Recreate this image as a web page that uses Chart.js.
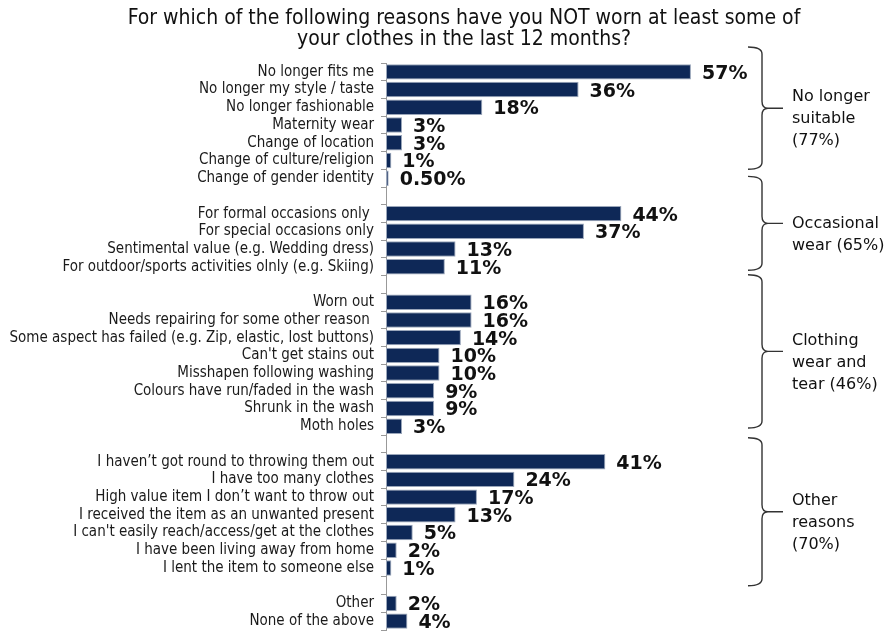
<!DOCTYPE html>
<html>
<head>
<meta charset="utf-8">
<script src="https://cdn.jsdelivr.net/npm/chart.js@4.4.1/dist/chart.umd.min.js"></script>
<style>
  html, body { margin: 0; padding: 0; background: #fff; }
</style>
</head>
<body>
<canvas id="chart" width="893" height="632"></canvas>
<script>
// --- data ---
const titleLines = [
  'For which of the following reasons have you NOT worn at least some of',
  'your clothes in the last 12 months?'
];

const categories = [
  'No longer fits me', 'No longer my style / taste', 'No longer fashionable',
  'Maternity wear', 'Change of location', 'Change of culture/religion',
  'Change of gender identity',
  '',
  'For formal occasions only ', 'For special occasions only',
  'Sentimental value (e.g. Wedding dress)',
  'For outdoor/sports activities olnly (e.g. Skiing)',
  '',
  'Worn out', 'Needs repairing for some other reason ',
  'Some aspect has failed (e.g. Zip, elastic, lost buttons)',
  "Can't get stains out", 'Misshapen following washing',
  'Colours have run/faded in the wash', 'Shrunk in the wash', 'Moth holes',
  '',
  'I haven\u2019t got round to throwing them out', 'I have too many clothes',
  'High value item I don\u2019t want to throw out',
  'I received the item as an unwanted present',
  "I can't easily reach/access/get at the clothes",
  'I have been living away from home', 'I lent the item to someone else',
  '',
  'Other', 'None of the above'
];

const values = [
  57, 36, 18, 3, 3, 1, 0.5,
  null,
  44, 37, 13, 11,
  null,
  16, 16, 14, 10, 10, 9, 9, 3,
  null,
  41, 24, 17, 13, 5, 2, 1,
  null,
  2, 4
];

const groupNames = [
  ['No longer', 'suitable', '(77%)'],
  ['Occasional', 'wear (65%)'],
  ['Clothing', 'wear and', 'tear (46%)'],
  ['Other', 'reasons', '(70%)']
];

// brace extents, in category-index units (hand placed, like the original)
const braceSpans = [[-1.4, 5.5], [5.9, 11.2], [11.45, 20.1], [20.65, 29.0]];

const LABEL_FONT = '"DejaVu Sans Condensed", "DejaVu Sans", sans-serif';
const TEXT_FONT = '"DejaVu Sans", sans-serif';

function fmt(v) {
  return (v < 1 ? v.toFixed(2) : String(v)) + '%';
}

const titlePlugin = {
  id: 'titleLines',
  afterDraw(chart) {
    const ctx = chart.ctx;
    ctx.save();
    ctx.font = '21px ' + LABEL_FONT;
    ctx.fillStyle = '#111';
    ctx.textAlign = 'center';
    ctx.textBaseline = 'middle';
    ctx.fillText(titleLines[0], 464, 19);
    ctx.fillText(titleLines[1], 464, 40);
    ctx.restore();
  }
};

const valueLabels = {
  id: 'valueLabels',
  afterDatasetsDraw(chart) {
    const ctx = chart.ctx;
    const meta = chart.getDatasetMeta(0);
    ctx.save();
    ctx.font = 'bold 19px ' + TEXT_FONT;
    ctx.fillStyle = '#111';
    ctx.textBaseline = 'middle';
    meta.data.forEach((bar, i) => {
      if (values[i] == null) return;
      ctx.fillText(fmt(values[i]), bar.x + 11, bar.y + 2);
    });
    ctx.restore();
  }
};

const braces = {
  id: 'braces',
  afterDraw(chart) {
    const ctx = chart.ctx;
    const y = chart.scales.y;
    const x0 = 748, x1 = 762, x2 = 783, r = 7;
    ctx.save();
    ctx.strokeStyle = '#333';
    ctx.lineWidth = 1.4;
    braceSpans.forEach((span, g) => {
      const top = y.getPixelForValue(span[0]);
      const bot = y.getPixelForValue(span[1]);
      const mid = (top + bot) / 2;
      ctx.beginPath();
      ctx.moveTo(x0, top);
      ctx.quadraticCurveTo(x1, top, x1, top + r);
      ctx.lineTo(x1, mid - r);
      ctx.quadraticCurveTo(x1, mid, x1 + 6, mid);
      ctx.lineTo(x2, mid);
      ctx.moveTo(x1 + 6, mid);
      ctx.quadraticCurveTo(x1, mid, x1, mid + r);
      ctx.lineTo(x1, bot - r);
      ctx.quadraticCurveTo(x1, bot, x0, bot);
      ctx.stroke();

      const lines = groupNames[g];
      ctx.font = '16px ' + TEXT_FONT;
      ctx.fillStyle = '#111';
      ctx.textBaseline = 'middle';
      const lh = 22;
      const c = mid + 11;
      lines.forEach((t, k) => {
        ctx.fillText(t, 792, c + (k - (lines.length - 1) / 2) * lh);
      });
    });
    ctx.restore();
  }
};

new Chart(document.getElementById('chart'), {
  type: 'bar',
  data: {
    labels: categories,
    datasets: [{
      data: values,
      backgroundColor: '#0e2857',
      borderColor: '#9aa6ba',
      borderWidth: 1,
      borderSkipped: false,
      barPercentage: 0.87,
      categoryPercentage: 1
    }]
  },
  options: {
    indexAxis: 'y',
    responsive: false,
    animation: false,
    layout: { padding: { top: 63, bottom: 2, left: 0, right: 132.5 } },
    plugins: {
      legend: { display: false },
      tooltip: { enabled: false },
      title: { display: false }
    },
    scales: {
      x: { display: false, min: 0, max: 70 },
      y: {
        afterFit(scale) {
          scale.width = 386;
          scale.paddingTop = 0;
          scale.paddingBottom = 0;
        },
        border: { display: true, color: '#999', width: 1 },
        grid: { drawOnChartArea: false, drawTicks: true, tickLength: 5, color: '#999', offset: true },
        ticks: {
          autoSkip: false,
          padding: 7,
          color: '#1a1a1a',
          font: { family: LABEL_FONT, size: 15 }
        }
      }
    }
  },
  plugins: [titlePlugin, valueLabels, braces]
});
</script>
</body>
</html>
